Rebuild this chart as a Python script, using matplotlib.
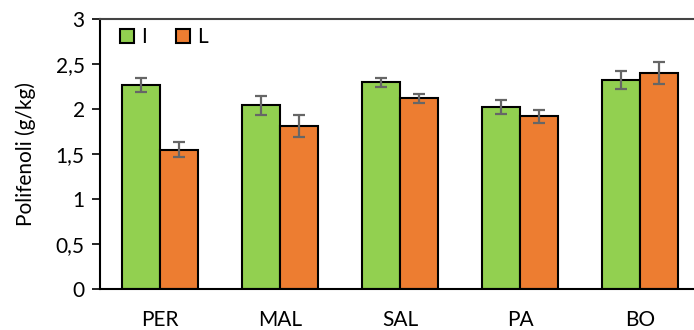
import matplotlib.pyplot as plt
import numpy as np

plt.rcParams['font.family'] = ['Lato', 'DejaVu Sans']

categories = ['PER', 'MAL', 'SAL', 'PA', 'BO']
vals_i = [2.27, 2.04, 2.30, 2.02, 2.32]
err_i = [0.08, 0.11, 0.05, 0.08, 0.10]
vals_l = [1.55, 1.81, 2.12, 1.92, 2.40]
err_l = [0.08, 0.12, 0.05, 0.07, 0.12]

fig = plt.figure(figsize=(6.94, 3.3), dpi=100)
ax = fig.add_axes([100 / 694, 1 - 289 / 330, 600 / 694, 270 / 330])

x = np.arange(len(categories))
w = 0.317
ekw = dict(ecolor='#666666', elinewidth=1.6, capsize=4.5, capthick=1.6)
ax.bar(x - w / 2, vals_i, w, yerr=err_i, color='#92D050', edgecolor='black',
       linewidth=1.5, error_kw=ekw, label='I')
ax.bar(x + w / 2, vals_l, w, yerr=err_l, color='#ED7D31', edgecolor='black',
       linewidth=1.5, error_kw=ekw, label='L')

ax.set_xlim(-0.5, 4.5)
ax.set_ylim(0, 3)
ax.set_yticks([0, 0.5, 1, 1.5, 2, 2.5, 3])
ax.set_yticklabels(['0', '0,5', '1', '1,5', '2', '2,5', '3'])
ax.set_xticks(x)
ax.set_xticklabels(categories)
ax.tick_params(axis='x', length=0, labelsize=15, pad=15)
ax.tick_params(axis='y', direction='out', length=6, width=1.2, labelsize=15, pad=5)
ax.set_ylabel('Polifenoli (g/kg)', fontsize=15, labelpad=14)

ax.spines['right'].set_visible(False)
for s in ['left', 'bottom']:
    ax.spines[s].set_linewidth(1.5)
ax.spines['top'].set_linewidth(1.5)
ax.spines['top'].set_color('#444444')

ax.legend(loc='upper left', ncol=2, frameon=False, fontsize=15,
          handlelength=0.67, handleheight=0.67, columnspacing=1.4,
          handletextpad=0.35, borderpad=0, borderaxespad=0,
          bbox_to_anchor=(0.033, 0.97))

fig.savefig('out.png', dpi=100)
